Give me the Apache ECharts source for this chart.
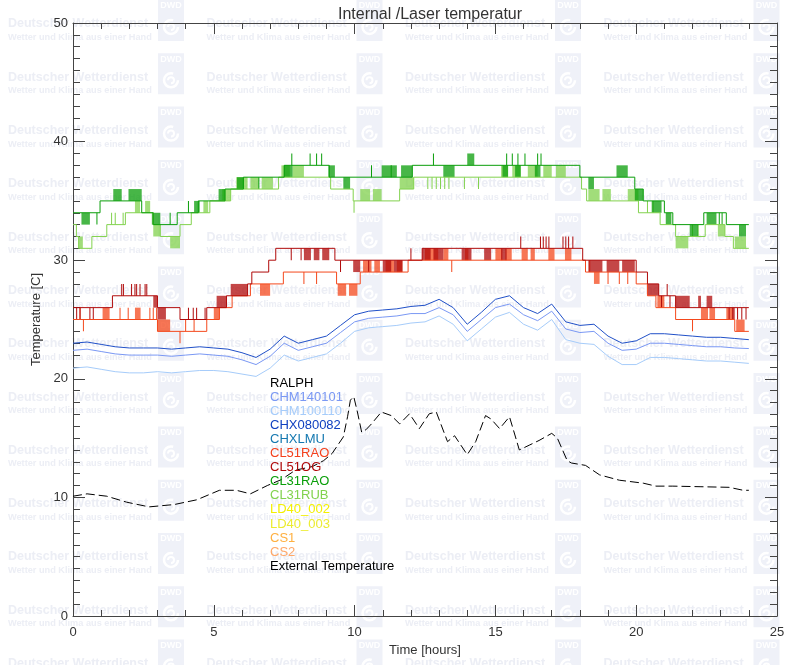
<!DOCTYPE html>
<html><head><meta charset="utf-8">
<script src="https://cdn.jsdelivr.net/npm/echarts@6/dist/echarts.min.js"></script>
<style>html,body{margin:0;padding:0;background:#fff}#c{width:800px;height:665px}</style>
</head><body><div id="c"></div>
<script>
// ---------------- data ----------------
const legendNames = ['RALPH','CHM140101','CHM100110','CHX080082','CHXLMU','CL51RAO','CL51OG','CL31RAO','CL31RUB','LD40_002','LD40_003','CS1','CS2','External Temperature'];

const blueTimes = [0,0.5,1,1.5,2,2.5,3,3.5,4,4.5,5,5.5,6,6.5,7,7.5,8,8.5,9,9.5,10,10.5,11,11.5,12,12.5,13,13.5,14,14.5,15,15.5,16,16.5,17,17.5,18,18.5,19,19.5,20,20.5,21,21.5,22,22.5,23,23.5,24];
const chx080082 = [23.0,23.1,22.9,22.7,22.6,22.6,22.6,22.5,22.6,22.7,22.6,22.5,22.2,21.8,22.5,23.6,23.0,23.3,23.6,24.5,25.4,25.7,25.8,25.9,26.1,26.2,26.7,26.0,24.6,25.6,26.7,27.0,26.0,25.5,26.3,24.8,24.5,24.6,23.6,23.0,23.2,23.8,23.8,23.7,23.6,23.5,23.5,23.4,23.3];
const chm140101 = [22.4,22.5,22.3,22.1,22.0,22.0,22.0,21.9,22.0,22.1,22.0,21.9,21.6,21.2,21.9,23.0,22.4,22.7,23.0,23.9,24.8,25.1,25.2,25.3,25.5,25.5,26.0,25.4,24.0,25.0,26.0,26.3,25.4,24.9,25.7,24.2,23.9,24.0,23.0,22.4,22.5,23.0,23.0,22.9,22.8,22.7,22.7,22.6,22.55];
const chm100110 = [20.9,21.0,20.8,20.6,20.5,20.5,20.6,20.5,20.6,20.7,20.7,20.6,20.4,20.2,20.9,22.0,21.5,21.8,22.1,23.0,24.0,24.3,24.4,24.5,24.7,24.8,25.3,24.6,23.2,24.2,25.2,25.6,24.6,24.1,25.0,23.3,23.0,22.9,21.9,21.2,21.2,21.8,21.8,21.7,21.6,21.5,21.5,21.4,21.3];

const externalTemp = [[0,10.1],[0.5,10.3],[1.2,10.1],[1.9,9.6],[2.7,9.2],[3.6,9.4],[4.4,9.8],[5.2,10.6],[5.8,10.6],[6.3,10.3],[6.9,11.0],[7.4,11.5],[7.9,12.3],[8.5,12.6],[8.9,13.1],[9.2,13.7],[9.4,14.4],[9.6,15.1],[9.75,16.8],[9.85,18.2],[9.97,18.5],[10.1,17.2],[10.25,15.5],[10.4,15.7],[10.6,16.2],[10.95,17.2],[11.3,16.9],[11.6,16.2],[11.95,17.05],[12.3,15.8],[12.65,17.05],[12.9,17.2],[13.3,14.7],[13.55,15.2],[14.0,13.6],[14.3,14.7],[14.65,16.9],[14.85,16.6],[15.15,15.8],[15.5,16.8],[15.85,14.0],[16.2,14.4],[16.55,14.8],[17.0,15.4],[17.2,15.0],[17.55,13.1],[17.7,12.9],[18.2,12.7],[18.7,11.9],[19.4,11.45],[20.25,11.2],[20.7,10.95],[21.3,10.95],[22.3,10.9],[23.3,10.85],[23.8,10.6],[24.0,10.6]];

// stepped series: level changes [time, level], dense jitter bands [t0, t1, low, high], single spikes [time, level]
const cl31raoSteps = [[0,34],[0.96,35],[2.44,34],[2.85,33],[3.7,34],[4.45,35],[5.4,36],[6.05,37],[7.5,38],[9.1,37],[12.05,38],[18.0,37],[19.95,36],[20.25,35],[21.0,34],[21.3,33],[22.4,34],[23.2,33]];
const cl31raoBands = [[0.3,0.6,33,34],[1.43,1.73,35,36],[1.97,2.44,35,36],[2.8,3.1,33,34],[4.3,4.5,34,35],[5.17,5.4,35,36],[5.82,6.06,36,37],[7.49,7.8,37,38],[9.07,9.3,37,38],[9.6,9.84,36,37],[10.96,11.5,37,38],[11.65,12.05,37,38],[13.15,13.55,37,38],[14.0,14.25,38,39],[15.25,15.45,37,38],[15.7,15.9,37,38],[16.4,16.6,37,38],[18.3,18.5,36,37],[19.3,19.7,37,38],[19.95,20.25,35,36],[20.55,20.9,34,35],[21.05,21.25,33,34],[21.9,22.2,32,33],[22.5,22.85,33,34],[23.65,23.9,32,33]];
const cl31raoSpikes = [[0.85,33],[3.45,34],[4.1,35],[6.6,36],[7.77,39],[8.42,39],[8.65,39],[8.83,39],[10.6,38],[11.3,38],[12.8,39],[15.4,39],[15.6,39],[15.8,39],[16.05,39],[16.5,39],[16.62,39],[22.95,33],[23.05,33]];

const cl31rubSteps = [[0,33],[0.12,32],[0.2,31],[0.67,32],[1.2,33],[1.86,34],[2.85,33],[3.1,32],[3.8,33],[4.2,34],[4.86,35],[5.6,36],[7.3,37],[9.15,36],[9.95,35],[11.6,36],[12.1,37],[18.06,36],[18.24,35],[20.08,34],[20.85,33],[21.4,32],[22.45,33],[23.15,32],[23.45,31]];
const cl31rubBands = [[0.2,0.35,31,32],[2.2,2.38,34,35],[2.56,2.74,34,35],[2.85,3.1,32,33],[3.45,3.8,31,32],[4.63,4.8,34,35],[5.3,5.6,35,36],[5.8,6.2,36,37],[6.3,6.6,36,37],[6.7,7.1,36,37],[7.4,7.7,37,38],[7.8,8.2,37,38],[10.2,10.55,35,36],[10.65,10.96,35,36],[11.6,12.1,36,37],[15.2,15.45,37,38],[15.6,15.9,37,38],[16.15,16.5,37,38],[16.7,17.0,37,38],[17.15,17.5,37,38],[18.3,18.7,35,36],[18.8,19.1,35,36],[19.7,20.08,35,36],[21.4,21.85,31,32],[22.9,23.15,32,33],[23.5,23.9,31,32]];
const cl31rubSpikes = [[1.37,34],[1.5,34],[1.78,34],[9.98,34],[12.6,36],[12.75,36],[12.9,36],[13.05,36],[13.2,36],[13.35,36],[13.9,36],[14.4,36],[20.4,35],[20.6,35],[22.0,33],[22.2,33]];

const cl51ogSteps = [[0,26],[1.4,27],[3.0,26],[3.8,25],[4.75,26],[5.45,27],[6.2,28],[6.35,29],[6.95,30],[7.2,31],[9.3,30],[12.4,31],[18.1,30],[20.0,29],[20.4,28],[20.8,27],[21.4,26]];
const cl51ogBands = [[2.85,3.0,26,27],[3.0,3.3,25,26],[5.1,5.45,26,27],[5.6,6.2,27,28],[8.2,8.45,30,31],[8.55,8.75,30,31],[8.85,9.1,30,31],[9.95,10.2,29,30],[11.0,11.3,29,30],[11.4,11.7,29,30],[12.4,12.7,30,31],[12.8,13.15,30,31],[13.8,14.15,30,31],[14.6,14.85,30,31],[15.2,15.4,30,31],[18.3,18.8,29,30],[18.95,19.4,29,30],[19.5,19.95,29,30],[20.4,20.8,27,28],[21.4,21.9,26,27],[22.2,22.3,26,27],[22.5,22.7,26,27],[23.4,23.5,25,26]];
const cl51ogSpikes = [[0.13,25],[0.25,25],[0.6,25],[0.72,25],[1.73,28],[1.79,28],[2.08,28],[2.2,28],[2.26,28],[2.38,28],[2.56,28],[2.62,28],[4.1,26],[4.27,26],[4.39,26],[4.69,26],[7.75,30],[8.1,30],[9.5,29],[10.5,29],[12.0,31],[15.9,32],[16.6,32],[16.7,32],[16.8,32],[16.9,32],[17.4,32],[17.5,32],[17.6,32],[17.75,32],[20.9,26],[21.1,28],[21.2,26],[23.3,25],[23.6,25],[23.75,25],[23.9,25]];

const cl51raoSteps = [[0,25],[3.0,24],[4.75,25],[5.2,26],[5.65,27],[6.3,28],[7.47,29],[9.36,28],[10.2,29],[11.9,30],[18.2,29],[20.0,28],[20.4,27],[20.7,26],[21.4,25],[23.5,24]];
const cl51raoBands = [[1.05,1.3,25,26],[2.2,2.4,25,26],[3.0,3.45,24,25],[5.0,5.2,25,26],[6.64,7.0,27,28],[9.4,9.7,27,28],[9.8,10.1,27,28],[10.3,10.6,29,30],[10.7,10.9,29,30],[11.1,11.4,29,30],[11.5,11.7,29,30],[12.5,12.97,30,31],[13.15,13.33,30,31],[13.92,14.04,30,31],[15.0,15.25,30,31],[15.35,15.58,30,31],[15.93,16.15,30,31],[16.25,16.4,30,31],[16.88,17.1,30,31],[17.47,17.7,30,31],[18.5,18.7,28,29],[20.75,21.0,26,27],[22.3,22.55,25,26],[22.6,22.8,25,26],[23.2,23.45,25,26],[23.55,23.85,24,25]];
const cl51raoSpikes = [[0.25,26],[0.37,24],[1.67,26],[1.96,26],[2.73,26],[2.85,26],[2.97,26],[3.8,23],[4.0,25],[4.3,25],[8.2,28],[8.65,28],[13.45,29],[18.35,30],[19.0,28],[19.4,28],[19.7,28],[22.0,24]];

// ---------------- styles ----------------
const FONT = '"Liberation Sans", Arial, sans-serif';
const legendColors = ['#000000','#7a98f4','#a6ccfa','#1040c0','#1478b0','#f4401c','#b00a0a','#0a9e0a','#82d24e','#f4f000','#ecec30','#ffb040','#ffa868','#000000'];
const C = {cl31rao:'#0a9e0a', cl31rub:'#82d24e', cl51rao:'#f4481c', cl51og:'#b00a0a', chx:'#2050c8', chm140:'#7a98f4', chm100:'#a6ccfa'};

// ---------------- builders ----------------
function stepLine(steps){ const d = steps.map(s => [s[0], s[1]]); d.push([24, steps[steps.length-1][1]]); return d; }
function baseAt(steps, t){ let v = steps[0][1]; for (const s of steps){ if (s[0] <= t) v = s[1]; else break; } return v; }
function marks(steps, bands, spikes){
  const out = bands.map(b => [b[0], b[1], b[2], b[3]]);
  spikes.forEach(s => { const b = baseAt(steps, s[0]); out.push([s[0], s[0], Math.min(b, s[1]), Math.max(b, s[1])]); });
  return out;
}
function zip(ts, vs){ return ts.map((t,i) => [t, vs[i]]); }

function stepSeries(name, steps, bands, spikes, color){
  return [
    {name, type:'line', step:'end', data: stepLine(steps), showSymbol:false, symbol:'none',
     lineStyle:{color, width:1}, itemStyle:{color}, z:3, animation:false},
    {name: name+'_j', type:'custom', data: marks(steps, bands, spikes), encode:{x:[0,1], y:[2,3]}, clip:true, z:3, animation:false,
     renderItem:function(params, api){
       const a = api.coord([api.value(0), api.value(3)]);
       const b = api.coord([api.value(1), api.value(2)]);
       const dw = b[0]-a[0];
       const w = Math.max(1, dw);
       return {type:'rect', shape:{x: dw < 1 ? a[0]-0.5 : a[0], y:a[1], width:w, height:b[1]-a[1]},
               style:{fill:color, opacity: dw < 1 ? 1 : 0.75}};
     }}
  ];
}

// ---------------- graphics: watermark + legend ----------------
const graphics = [];
const wmCols = [8, 206.5, 405, 603.5];
for (let r = 0; r < 13; r++){
  const y0 = 24 + r*53.3;
  wmCols.forEach(x0 => {
    graphics.push({type:'text', x:x0, y:y0, z:-10, silent:true, style:{text:'Deutscher Wetterdienst', fill:'#eceef5', font:'bold 12.5px '+FONT, verticalAlign:'middle'}});
    graphics.push({type:'text', x:x0, y:y0+13.5, z:-10, silent:true, style:{text:'Wetter und Klima aus einer Hand', fill:'#eceef5', font:'bold 9.2px '+FONT, verticalAlign:'middle'}});
    graphics.push({type:'rect', z:-10, silent:true, shape:{x:x0+150, y:y0-24, width:26, height:41}, style:{fill:'#eff1f8'}});
    graphics.push({type:'text', x:x0+163, y:y0-18, z:-9, silent:true, style:{text:'DWD', fill:'#ffffff', font:'bold 9px '+FONT, align:'center', verticalAlign:'middle'}});
    graphics.push({type:'arc', z:-9, silent:true, shape:{cx:x0+163, cy:y0+3, r:7, startAngle:0, endAngle:Math.PI*1.6}, style:{stroke:'#ffffff', lineWidth:2.5, fill:null}});
    graphics.push({type:'arc', z:-9, silent:true, shape:{cx:x0+163, cy:y0+3, r:3, startAngle:Math.PI, endAngle:Math.PI*2.5}, style:{stroke:'#ffffff', lineWidth:2, fill:null}});
  });
}
legendNames.forEach((n, i) => {
  graphics.push({type:'text', x:270, y:383 + i*14.1, z:20, silent:true,
    style:{text:n, fill:legendColors[i], font:'13px '+FONT, verticalAlign:'middle'}});
});

// ---------------- chart ----------------
const axisCol = '#444';
function xAx(pos, show){
  return {type:'value', min:0, max:25, interval:5, position:pos,
    axisLine:{show:true, onZero:false, lineStyle:{color:axisCol, width:1}},
    axisTick:{show:true, inside:true, length:11, lineStyle:{color:axisCol}},
    minorTick:{show:true, splitNumber:5, length:6, lineStyle:{color:axisCol}},
    splitLine:{show:false}, minorSplitLine:{show:false},
    axisLabel:{show:show, margin:10, color:'#333', fontSize:13, fontFamily:FONT},
    name: show ? 'Time [hours]' : '', nameLocation:'middle', nameGap:28,
    nameTextStyle:{color:'#333', fontSize:13, fontFamily:FONT}};
}
function yAx(pos, show){
  return {type:'value', min:0, max:50, interval:10, position:pos,
    axisLine:{show:true, onZero:false, lineStyle:{color:axisCol, width:1}},
    axisTick:{show:true, inside:true, length:12, lineStyle:{color:axisCol}},
    minorTick:{show:true, splitNumber:10, length:7, lineStyle:{color:axisCol}},
    splitLine:{show:false}, minorSplitLine:{show:false},
    axisLabel:{show:show, margin:5, color:'#333', fontSize:13, fontFamily:FONT},
    name: show ? 'Temperature [C]' : '', nameLocation:'middle', nameGap:23,
    nameTextStyle:{color:'#333', fontSize:13, fontFamily:FONT}};
}

const series = [].concat(
  stepSeries('CL31RUB', cl31rubSteps, cl31rubBands, cl31rubSpikes, C.cl31rub),
  stepSeries('CL31RAO', cl31raoSteps, cl31raoBands, cl31raoSpikes, C.cl31rao),
  stepSeries('CL51RAO', cl51raoSteps, cl51raoBands, cl51raoSpikes, C.cl51rao),
  stepSeries('CL51OG', cl51ogSteps, cl51ogBands, cl51ogSpikes, C.cl51og),
  [
    {name:'CHM100110', type:'line', data:zip(blueTimes, chm100110), showSymbol:false, symbol:'none', lineStyle:{color:C.chm100, width:1}, z:4, animation:false},
    {name:'CHM140101', type:'line', data:zip(blueTimes, chm140101), showSymbol:false, symbol:'none', lineStyle:{color:C.chm140, width:1}, z:4, animation:false},
    {name:'CHX080082', type:'line', data:zip(blueTimes, chx080082), showSymbol:false, symbol:'none', lineStyle:{color:C.chx, width:1}, z:4, animation:false},
    {name:'External Temperature', type:'line', data:externalTemp, showSymbol:false, symbol:'none', lineStyle:{color:'#000', width:1, type:[9,4]}, z:5, animation:false}
  ]
);

const chart = echarts.init(document.getElementById('c'), null, {renderer:'canvas'});
chart.setOption({
  backgroundColor:'#ffffff',
  animation:false,
  title:{text:'Internal /Laser temperatur', left:425, top:2, textAlign:'center',
    textStyle:{color:'#333', fontSize:16, fontWeight:'normal', fontFamily:FONT}},
  grid:{left:73, right:23, top:23, bottom:49, containLabel:false},
  xAxis:[xAx('bottom', true), xAx('top', false)],
  yAxis:[yAx('left', true), yAx('right', false)],
  graphic:{elements:graphics},
  series: series
});
</script></body></html>
